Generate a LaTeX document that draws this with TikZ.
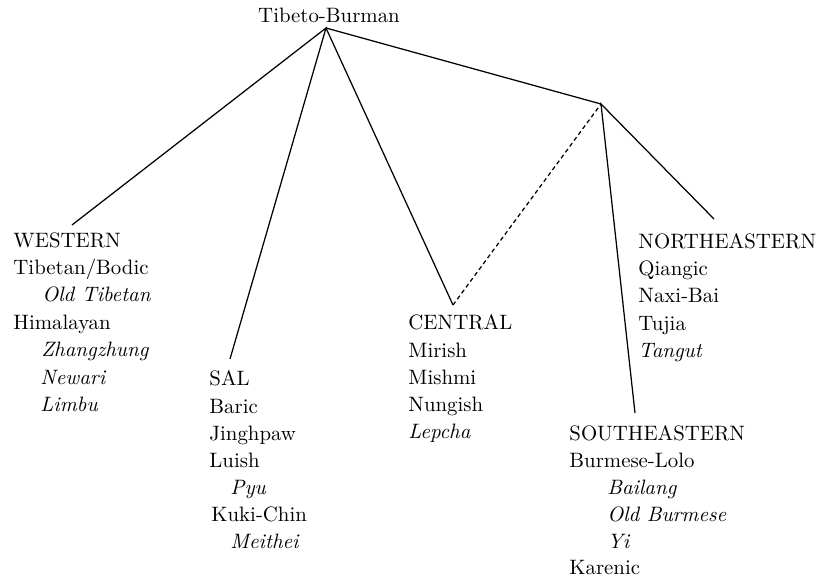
\documentclass[tikz,border=0pt]{standalone}
\begin{document}
\begin{tikzpicture}[x=0.48pt,y=-0.48pt,
  lbl/.style={anchor=base west, inner sep=0pt},
  ln/.style={line width=0.6pt},
  dsh/.style={line width=0.6pt, dash pattern=on 2pt off 1.5pt}]
\useasboundingbox (0,0) rectangle (819,584);
% root
\node[anchor=base, inner sep=0pt] (root) at (329,22) {Tibeto-Burman};
\coordinate (rf) at (326,28);
\coordinate (j) at (601,104);
\coordinate (wend) at (72,225);
\coordinate (send) at (230,359);
\coordinate (cend) at (453,305);
\coordinate (neend) at (714,219);
\coordinate (seend) at (635,413);
% WESTERN
\node[lbl] (w0) at (13,247) {WESTERN};
\node[lbl] (w1) at (13,274) {Tibetan/Bodic};
\node[lbl] (w2) at (42,301) {\itshape Old Tibetan};
\node[lbl] (w3) at (13,329) {Himalayan};
\node[lbl] (w4) at (41,356) {\itshape Zhangzhung};
\node[lbl] (w5) at (40,384) {\itshape Newari};
\node[lbl] (w6) at (40,411) {\itshape Limbu};
% SAL
\node[lbl] (s0) at (209,385) {SAL};
\node[lbl] (s1) at (209,413) {Baric};
\node[lbl] (s2) at (209,440) {Jinghpaw};
\node[lbl] (s3) at (209,467) {Luish};
\node[lbl] (s4) at (230,494) {\itshape Pyu};
\node[lbl] (s5) at (211,521) {Kuki-Chin};
\node[lbl] (s6) at (230,548) {\itshape Meithei};
% CENTRAL
\node[lbl] (c0) at (408,329) {CENTRAL};
\node[lbl] (c1) at (408,357) {Mirish};
\node[lbl] (c2) at (408,384) {Mishmi};
\node[lbl] (c3) at (408,411) {Nungish};
\node[lbl] (c4) at (408,438) {\itshape Lepcha};
% NORTHEASTERN
\node[lbl] (n0) at (638,248) {NORTHEASTERN};
\node[lbl] (n1) at (638,275) {Qiangic};
\node[lbl] (n2) at (638,302) {Naxi-Bai};
\node[lbl] (n3) at (638,330) {Tujia};
\node[lbl] (n4) at (638,357) {\itshape Tangut};
% SOUTHEASTERN
\node[lbl] (e0) at (569,440) {SOUTHEASTERN};
\node[lbl] (e1) at (569,467) {Burmese-Lolo};
\node[lbl] (e2) at (607,494) {\itshape Bailang};
\node[lbl] (e3) at (607,521) {\itshape Old Burmese};
\node[lbl] (e4) at (607,548) {\itshape Yi};
\node[lbl] (e5) at (569,574) {Karenic};
% edges
\draw[ln] (wend) -- (rf) -- (send);
\draw[ln] (rf) -- (cend);
\draw[ln] (rf) -- (j);
\draw[ln] (neend) -- (j) -- (seend);
\draw[dsh] (cend) -- (j);
\end{tikzpicture}
\end{document}
